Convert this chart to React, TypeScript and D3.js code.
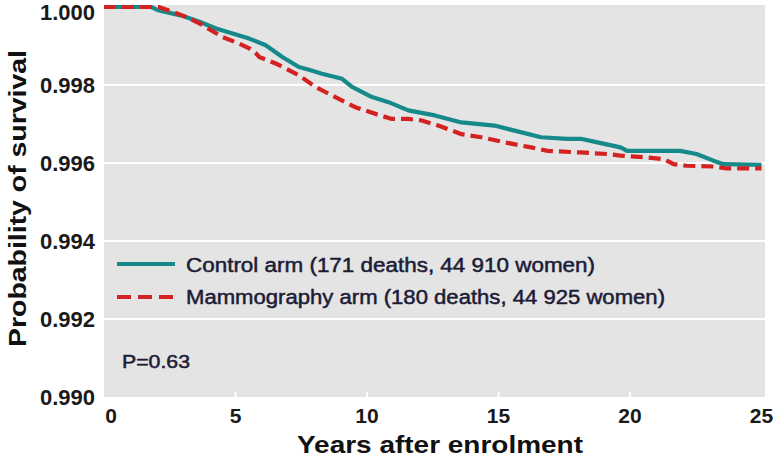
import React from "react";
import * as d3 from "d3";

const controlYears = [0, 1.8, 2.05, 2.5, 3.0, 3.63, 4.26, 4.89, 5.52, 6.15, 6.78, 7.41, 7.79, 8.29, 9.05, 9.43, 10.19, 10.82, 11.57, 12.58, 13.59, 14.85, 15.61, 16.62, 17.62, 18.13, 18.76, 19.64, 19.89, 21.91, 22.53, 23.17, 23.55, 25.0];
const controlSurv = [1.0, 1.0, 0.99992, 0.99985, 0.99977, 0.99962, 0.99945, 0.99932, 0.99919, 0.99902, 0.99872, 0.99846, 0.99839, 0.99829, 0.99816, 0.99795, 0.99769, 0.99756, 0.99735, 0.99722, 0.99704, 0.99696, 0.99683, 0.99666, 0.99662, 0.99662, 0.99653, 0.9964, 0.99631, 0.99631, 0.99623, 0.99606, 0.99597, 0.99595];

const mammoYears = [0, 2.1, 2.3, 3.0, 3.63, 4.51, 5.14, 5.52, 5.78, 5.9, 6.53, 6.66, 7.41, 8.04, 8.67, 9.56, 10.31, 10.94, 11.57, 12.08, 12.71, 13.59, 14.35, 15.23, 16.24, 16.87, 18.13, 19.14, 19.64, 20.65, 21.28, 21.66, 22.16, 23.17, 23.68, 25.0];
const mammoSurv = [1.0, 1.0, 0.99995, 0.99978, 0.99958, 0.99923, 0.99906, 0.99894, 0.99881, 0.99872, 0.99855, 0.99851, 0.99825, 0.99795, 0.99773, 0.99743, 0.99726, 0.99713, 0.99713, 0.99709, 0.99696, 0.99674, 0.99666, 0.99653, 0.9964, 0.99631, 0.99627, 0.99623, 0.99619, 0.99614, 0.9961, 0.99597, 0.99593, 0.99591, 0.99586, 0.99586];

const xTicks = [0, 5, 10, 15, 20, 25];
const yTicks = [0.99, 0.992, 0.994, 0.996, 0.998, 1.0];

const seriesNames = [
  "Control arm (171 deaths, 44 910 women)",
  "Mammography arm (180 deaths, 44 925 women)",
];
const pText = "P=0.63";

const W = 774;
const H = 460;
const TEAL = "#16898a";
const RED = "#d42222";

export default function App() {
  const x = d3.scaleLinear().domain([0, 25]).range([104, 761.5]);
  const y = d3.scaleLinear().domain([0.99, 1.0]).range([397, 7]);

  const line = d3
    .line<[number, number]>()
    .x((d) => x(d[0]))
    .y((d) => y(d[1]))
    .curve(d3.curveLinear);

  const controlPts: [number, number][] = controlYears.map((t, i) => [t, controlSurv[i]]);
  const mammoPts: [number, number][] = mammoYears.map((t, i) => [t, mammoSurv[i]]);

  const left = 104;
  const right = 765;
  const top = 5;
  const bottom = 397;
  const font = "Arial, 'Liberation Sans', sans-serif";
  const legendColor = "#1c1c36";

  return (
    <svg
      width={W}
      height={H}
      style={{ position: "absolute", left: 0, top: 0, background: "#fff" }}
      fontFamily={font}
    >
      <rect x={left} y={top} width={right - left} height={bottom - top} fill="#e4e4e4" />
      {yTicks
        .filter((v) => v > 0.9905 && v < 0.9995)
        .map((v) => (
          <line key={v} x1={left} x2={right} y1={y(v)} y2={y(v)} stroke="#fff" strokeWidth={2.2} />
        ))}
      {xTicks
        .filter((v) => v > 0 && v < 25)
        .map((v) => (
          <line key={v} x1={x(v)} x2={x(v)} y1={bottom - 5} y2={bottom} stroke="#fff" strokeWidth={2} />
        ))}

      <path d={line(controlPts) || ""} fill="none" stroke={TEAL} strokeWidth={4.2} strokeLinejoin="round" />
      <path d={line(mammoPts) || ""} fill="none" stroke={RED} strokeWidth={4.2} strokeDasharray="12 6" />

      {yTicks.map((v) => (
        <text
          key={v}
          x={95}
          y={Math.max(y(v), 12)}
          textAnchor="end"
          dominantBaseline="central"
          fontSize={22}
          fontWeight="bold"
          fill="#1a1a1a"
        >
          {v.toFixed(3)}
        </text>
      ))}
      {xTicks.map((v) => (
        <text
          key={v}
          x={Math.max(x(v), 111)}
          y={423}
          textAnchor="middle"
          fontSize={21}
          fontWeight="bold"
          fill="#1a1a1a"
        >
          {v}
        </text>
      ))}

      <text
        x={297}
        y={453}
        fontSize={24}
        fontWeight="bold"
        fill="#111"
        textLength={286}
        lengthAdjust="spacingAndGlyphs"
      >
        Years after enrolment
      </text>
      <text
        transform="translate(26,347) rotate(-90)"
        fontSize={24}
        fontWeight="bold"
        fill="#111"
        textLength={297}
        lengthAdjust="spacingAndGlyphs"
      >
        Probability of survival
      </text>

      <line x1={117} x2={175} y1={264} y2={264} stroke={TEAL} strokeWidth={4} />
      <line x1={117} x2={175} y1={297} y2={297} stroke={RED} strokeWidth={4.2} strokeDasharray="14 7" />
      <g fill={legendColor} stroke={legendColor} strokeWidth={0.5}>
        <text x={186} y={272} fontSize={20} textLength={409} lengthAdjust="spacingAndGlyphs">
          {seriesNames[0]}
        </text>
        <text x={186} y={304} fontSize={20} textLength={479} lengthAdjust="spacingAndGlyphs">
          {seriesNames[1]}
        </text>
        <text x={122} y={368} fontSize={18} textLength={68} lengthAdjust="spacingAndGlyphs">
          {pText}
        </text>
      </g>
    </svg>
  );
}
